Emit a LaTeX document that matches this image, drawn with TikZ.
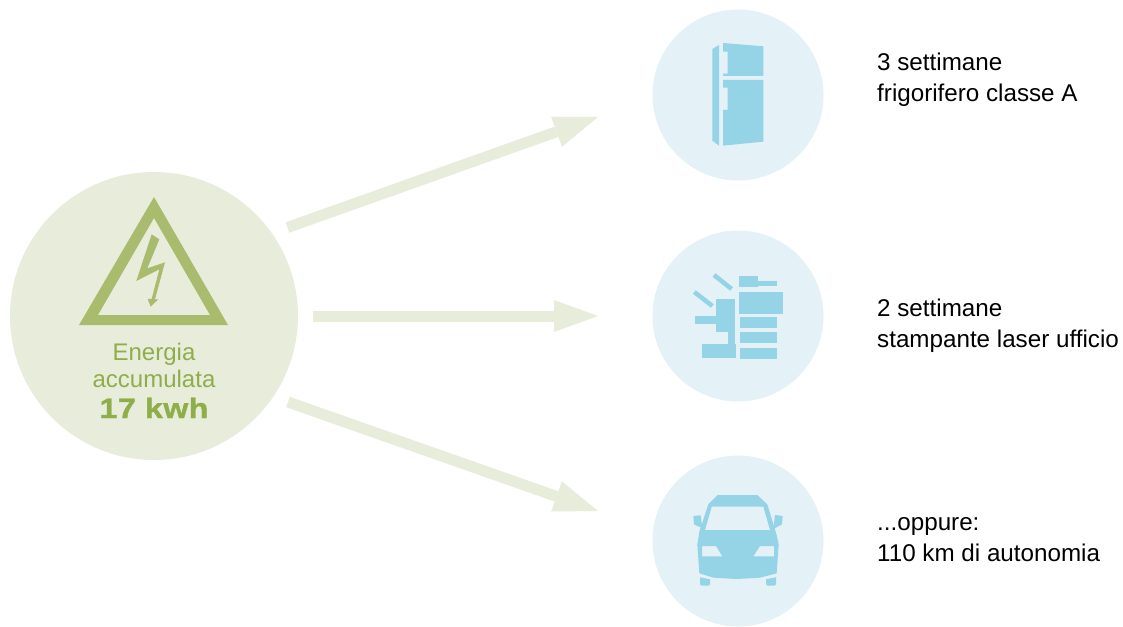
\documentclass[tikz,border=0pt]{standalone}
\usepackage{fontspec}
\setmainfont{Liberation Sans}
\newfontfamily\heavyfont[FakeStretch=1.14,FakeBold=1.4,LetterSpace=2]{Liberation Sans Bold}
\usepackage{xcolor}
\definecolor{salvia}{HTML}{E8ECDB}
\definecolor{olivamedia}{HTML}{A9BC6D}
\definecolor{olivatesto}{HTML}{8FAE4A}
\definecolor{cielopallido}{HTML}{E4F1F7}
\definecolor{cieloicona}{HTML}{95D3E6}
\usetikzlibrary{arrows.meta}
\tikzset{
  freccia/.style={draw=salvia, line width=11pt, -{Triangle[length=44pt,width=32pt,line width=0pt,fill=salvia]}},
  cerchio/.style={circle, inner sep=0pt, fill=cielopallido, minimum size=171pt},
  icona/.style={fill=cieloicona, draw=none},
  didascalia/.style={anchor=west, align=left, inner sep=0pt, font=\fontsize{24.2}{31}\selectfont},
  verde/.style={anchor=base, inner sep=0pt, text=olivatesto, font=\fontsize{24}{28}\selectfont}
}

\begin{document}
\begin{tikzpicture}[x=1pt,y=-1pt]
  \useasboundingbox (0,0) rectangle (1123,626);
  % Left circle
  \node[circle, inner sep=0pt, fill=salvia, minimum size=288pt] (energia) at (154,316) {};
  % Right circles
  \foreach \nome/\y in {frigo/95,stampante/316,auto/541} {
    \node[cerchio] (\nome) at (738,\y) {};
  }
  % Arrows
  \coordinate (partenzaA) at (287.5,227.5);
  \coordinate (partenzaB) at (313,316);
  \coordinate (partenzaC) at (288,402);
  \coordinate (arrivoA) at (598,117);
  \coordinate (arrivoB) at (598,316);
  \coordinate (arrivoC) at (598,511);
  \draw[freccia] (partenzaA) -- (arrivoA);
  \draw[freccia] (partenzaB) -- (arrivoB);
  \draw[freccia] (partenzaC) -- (arrivoC);
  % Warning triangle
  \fill[olivamedia, even odd rule] (154,197) -- (228,325) -- (79,325) -- cycle
    (154,218) -- (210,315) -- (98,315) -- cycle;
  % Bolt
  \begin{scope}[shift={(60,180)},x=0.3333pt,y=-0.3333pt]
    \fill[olivamedia] (275,163) -- (298,178) -- (262,265) -- (315,247) -- (285,358)
      -- (295,358) -- (272,380) -- (263,357) -- (275,357) -- (298,268) -- (229,303) -- cycle;
  \end{scope}
  % Left text
  \node[verde] (titolo) at (154,360) {Energia};
  \node[verde] (sottotitolo) at (154,387) {accumulata};
  \node[verde, font=\heavyfont\fontsize{28}{30}\selectfont] (valore) at (154,418) {17 kwh};
  % Fridge
  \begin{scope}[shift={(690,30)},x=0.3333pt,y=-0.3333pt]
    \fill[icona] (67,57) -- (87,45) -- (87,347) -- (67,332) -- cycle;
    \fill[icona] (99,39) -- (220,49) -- (220,138) -- (99,138) -- (99,131) -- (113,131)
      -- (113,65) -- (99,65) -- cycle;
    \fill[icona] (99,150) -- (220,150) -- (220,335) -- (99,347) -- (99,240) -- (113,240)
      -- (113,173) -- (99,173) -- cycle;
  \end{scope}
  % Printer
  \begin{scope}[shift={(680,260)},x=0.3333pt,y=-0.3333pt]
    \foreach \xa/\ya/\xb/\yb in {177/48/234/81,234/63/291/78,177/96/309/162,180/171/291/204,
      180/216/291/249,180/264/291/297,108/117/165/216,45/168/108/192,144/216/165/252,66/252/168/294} {
      \fill[icona] (\xa,\ya) rectangle (\xb,\yb);
    }
    \draw[cieloicona, line width=4.5pt] (102,45) -- (155,87);
    \draw[cieloicona, line width=4.5pt] (43,96) -- (97,138);
  \end{scope}
  % Car
  \begin{scope}[shift={(680,485)},x=0.3333pt,y=-0.3333pt]
    \fill[icona, even odd rule] (113,30) -- (232,30) -- (262,58) -- (290,150) -- (296,178)
      -- (290,265) -- (240,278) -- (170,282) -- (100,278) -- (58,265) -- (52,178) -- (58,140)
      -- (85,58) -- cycle
      (95,65) -- (250,65) -- (270,135) -- (75,135) -- cycle
      (66,183) -- (108,183) -- (127,214) -- (66,214) -- cycle
      (282,183) -- (240,183) -- (220,214) -- (282,214) -- cycle;
    \fill[icona] (40,93) -- (62,91) -- (67,130) -- (42,118) -- cycle;
    \fill[icona] (285,90) -- (308,93) -- (306,118) -- (280,132) -- cycle;
    \fill[icona] (60,277) -- (90,283) -- (90,298) -- (85,302) -- (65,302) -- (60,298) -- cycle;
    \fill[icona] (288,277) -- (258,283) -- (258,298) -- (263,302) -- (283,302) -- (288,298) -- cycle;
  \end{scope}
  % Captions
  \node[didascalia] (testofrigo) at (877,80) {3 settimane\\frigorifero classe A};
  \node[didascalia] (testostampante) at (877,326) {2 settimane\\stampante laser ufficio};
  \node[didascalia] (testoauto) at (877,540) {...oppure:\\110 km di autonomia};
\end{tikzpicture}
\end{document}
